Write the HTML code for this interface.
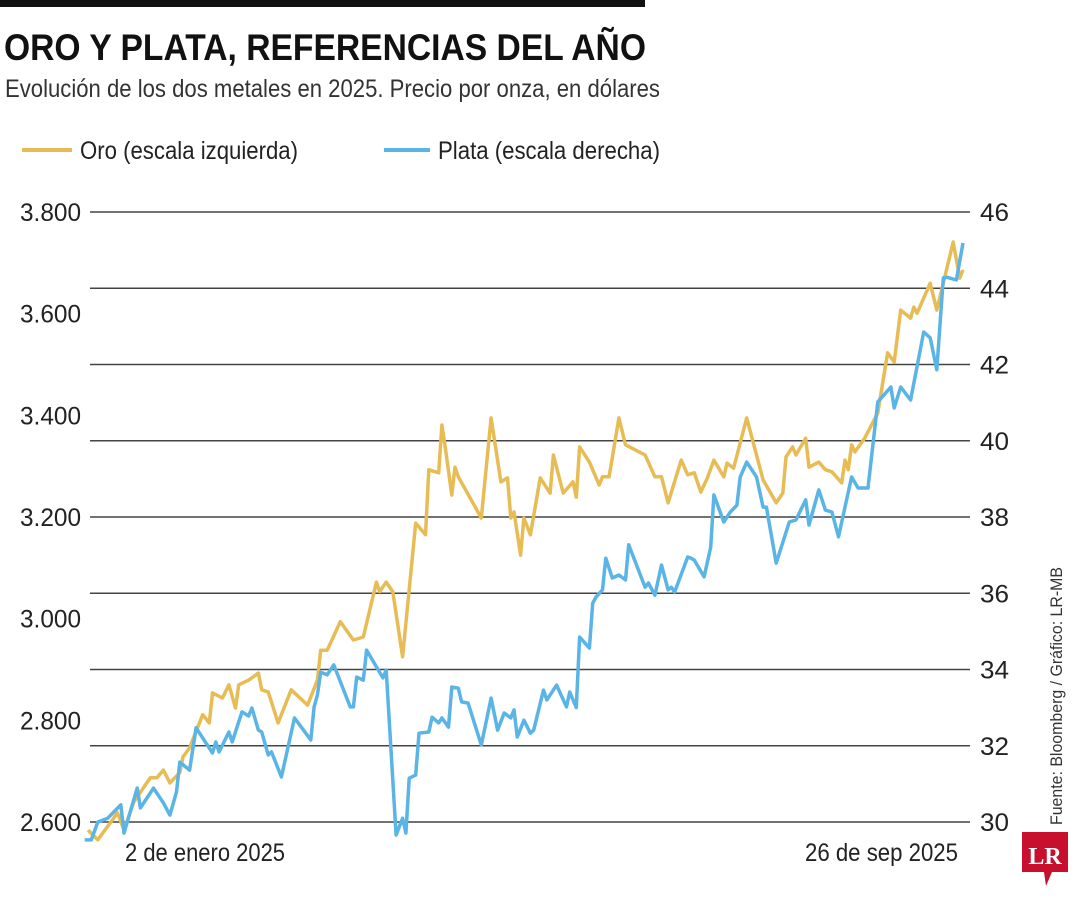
<!DOCTYPE html>
<html><head><meta charset="utf-8"><style>
html,body{margin:0;padding:0;background:#fff;}
svg{display:block;font-family:"Liberation Sans",sans-serif;}
</style></head><body>
<svg id="chart" width="1080" height="900" viewBox="0 0 1080 900">
<rect x="0" y="0" width="645" height="7" fill="#111"/>
<text x="4" y="60" font-size="37" font-weight="bold" fill="#111" textLength="642" lengthAdjust="spacingAndGlyphs">ORO Y PLATA, REFERENCIAS DEL AÑO</text>
<text x="5" y="97" font-size="25" fill="#333" textLength="655" lengthAdjust="spacingAndGlyphs">Evolución de los dos metales en 2025. Precio por onza, en dólares</text>
<g>
<g><line x1="22" y1="150" x2="72" y2="150" stroke="#E8BC55" stroke-width="4"/><text x="80" y="159" font-size="25" fill="#222" textLength="218" lengthAdjust="spacingAndGlyphs">Oro (escala izquierda)</text></g>
<g><line x1="384" y1="150" x2="430" y2="150" stroke="#5AB4E5" stroke-width="4"/><text x="438" y="159" font-size="25" fill="#222" textLength="222" lengthAdjust="spacingAndGlyphs">Plata (escala derecha)</text></g>
</g>
<g id="grid"></g>
<g id="ylabels"></g>
<g id="series"></g>
<text x="125" y="861" font-size="25" fill="#222" textLength="160" lengthAdjust="spacingAndGlyphs">2 de enero 2025</text>
<text x="805" y="861" font-size="25" fill="#222" textLength="153" lengthAdjust="spacingAndGlyphs">26 de sep 2025</text>
<text transform="translate(1062,825) rotate(-90)" font-size="17" fill="#333" textLength="258" lengthAdjust="spacingAndGlyphs">Fuente: Bloomberg / Gráfico: LR-MB</text>
<g><path d="M1022,832 H1068 V872 H1052 L1046,886 L1044,872 H1022 Z" fill="#C8102E"/><text x="1045" y="864" font-size="24" font-weight="bold" fill="#fff" text-anchor="middle" font-family="Liberation Serif,serif">LR</text></g>
</svg>
<script>
const leftTicks=[3800,3600,3400,3200,3000,2800,2600];
const leftTickLabels=["3.800","3.600","3.400","3.200","3.000","2.800","2.600"];
const rightTicks=[46,44,42,40,38,36,34,32,30];
const goldDays=[2,5,11,13,16,21,23,25,27,30,31,33,37,39,40,43,45,47,48,51,54,55,57,60,64,69,72,73,75,79,83,86,90,91,93,95,98,102,105,106,109,110,111,113,114,115,122,125,128,130,131,132,134,135,137,140,143,144,147,150,151,152,155,158,159,161,164,166,169,172,175,177,179,183,185,187,189,191,193,196,197,199,203,208,212,214,215,217,218,221,222,225,227,229,232,233,234,235,236,239,243,246,248,250,253,254,255,259,261,266,268,269];
const goldValues=[2584,2565,2618,2584,2640,2687,2687,2702,2677,2697,2728,2746,2811,2795,2854,2844,2870,2824,2870,2879,2893,2860,2856,2795,2860,2830,2879,2938,2938,2994,2958,2964,3072,3053,3072,3053,2925,3188,3165,3293,3287,3381,3338,3243,3298,3279,3198,3395,3269,3277,3198,3210,3125,3198,3165,3277,3247,3322,3247,3269,3239,3338,3308,3263,3279,3279,3395,3342,3332,3322,3279,3279,3228,3312,3283,3287,3249,3277,3312,3279,3306,3296,3395,3273,3228,3247,3318,3338,3322,3355,3298,3308,3293,3289,3267,3312,3293,3342,3328,3355,3405,3523,3505,3607,3591,3613,3601,3660,3607,3741,3670,3686];
const silverDays=[1,3,5,8,12,13,17,18,22,25,27,29,30,33,35,40,41,42,45,46,49,51,52,54,55,57,58,61,65,70,71,72,73,75,77,82,83,84,86,87,92,93,96,98,99,100,102,103,106,107,109,110,112,113,115,116,118,122,125,127,129,131,132,133,135,137,138,141,142,145,148,149,151,152,155,156,157,159,160,162,164,166,167,172,173,175,177,179,180,181,185,186,187,190,192,193,196,198,200,201,203,206,208,209,212,216,218,221,222,225,227,229,231,233,235,237,240,243,247,248,250,253,257,259,261,263,264,267,269];
const silverValues=[29.53,29.53,30.0,30.1,30.45,29.71,30.89,30.37,30.89,30.5,30.18,30.79,31.57,31.36,32.47,31.81,32.1,31.84,32.36,32.1,32.89,32.78,32.99,32.41,32.36,31.76,31.84,31.18,32.73,32.15,33.02,33.33,33.93,33.86,34.12,33.02,33.02,33.8,33.72,34.51,33.78,33.99,29.66,30.1,29.71,31.15,31.23,32.33,32.36,32.75,32.6,32.73,32.49,33.54,33.51,33.15,33.12,32.02,33.25,32.41,32.86,32.73,32.94,32.23,32.67,32.33,32.41,33.46,33.2,33.59,33.02,33.41,33.0,34.85,34.56,35.74,35.9,36.09,36.92,36.4,36.48,36.35,37.27,36.16,36.27,35.95,36.74,36.09,36.16,36.03,36.95,36.92,36.87,36.43,37.21,38.58,37.87,38.13,38.31,39.05,39.44,39.05,38.26,38.26,36.79,37.87,37.92,38.45,37.79,38.71,38.18,38.13,37.48,38.26,39.05,38.76,38.76,41.02,41.41,40.86,41.41,41.07,42.85,42.7,41.86,44.27,44.29,44.22,45.19];

const NS="http://www.w3.org/2000/svg";
const x=d=>88+(d-2)*875/267;
const yL=v=>212+(3800-v)*610/1200;
const yR=v=>212+(46-v)*610/16;
const grid=document.getElementById('grid');
const yl=document.getElementById('ylabels');
rightTicks.forEach((t,i)=>{
  const l=document.createElementNS(NS,'line');
  
  
  l.setAttribute('x1',90);l.setAttribute('x2',970);
  l.setAttribute('y1',yR(t));l.setAttribute('y2',yR(t));
  l.setAttribute('stroke','#444');l.setAttribute('stroke-width','1.5');
  grid.appendChild(l);
  const tx=document.createElementNS(NS,'text');
  
  
  tx.setAttribute('x',980);tx.setAttribute('y',yR(t)+9);
  tx.setAttribute('font-size','25');tx.setAttribute('fill','#222');
  tx.setAttribute('textLength','29');tx.setAttribute('lengthAdjust','spacingAndGlyphs');
  tx.textContent=t;yl.appendChild(tx);
});
leftTicks.forEach((t,i)=>{
  const tx=document.createElementNS(NS,'text');
  
  
  tx.setAttribute('x',20);tx.setAttribute('y',yL(t)+9);
  tx.setAttribute('font-size','25');tx.setAttribute('fill','#222');
  tx.setAttribute('textLength','61');tx.setAttribute('lengthAdjust','spacingAndGlyphs');
  tx.textContent=leftTickLabels[i];yl.appendChild(tx);
});
const ser=document.getElementById('series');
function line(days,vals,fy,color,name){
  const p=document.createElementNS(NS,'polyline');
  
  
  p.setAttribute('points',days.map((d,i)=>x(d).toFixed(1)+','+fy(vals[i]).toFixed(1)).join(' '));
  p.setAttribute('fill','none');p.setAttribute('stroke',color);
  p.setAttribute('stroke-width','3.5');p.setAttribute('stroke-linejoin','round');
  ser.appendChild(p);
}
line(goldDays,goldValues,yL,'#E8BC55','gold-line');
line(silverDays,silverValues,yR,'#5AB4E5','silver-line');
</script>
</body></html>
